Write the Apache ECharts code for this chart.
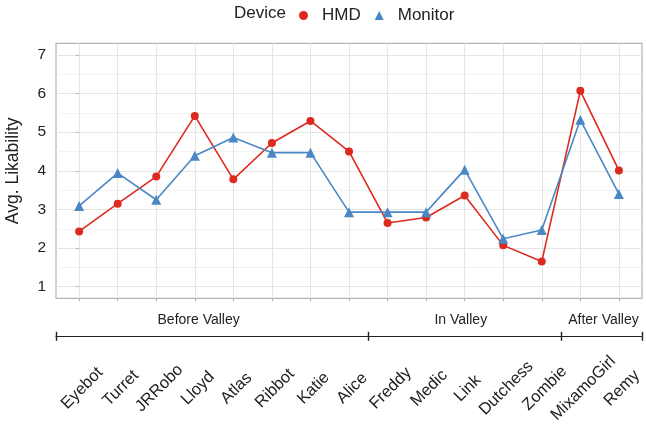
<!DOCTYPE html>
<html>
<head>
<meta charset="utf-8">
<script src="https://cdn.jsdelivr.net/npm/echarts@6/dist/echarts.min.js"></script>
<style>html,body{margin:0;padding:0;background:#fff}#c{width:646px;height:427px}</style>
</head>
<body>
<div id="c"></div>
<script>
var categories = ['Eyebot','Turret','JRRobo','Lloyd','Atlas','Ribbot','Katie','Alice','Freddy','Medic','Link','Dutchess','Zombie','MixamoGirl','Remy'];
var hmd = [2.43, 3.15, 3.85, 5.42, 3.78, 4.72, 5.29, 4.50, 2.65, 2.79, 3.36, 2.07, 1.65, 6.07, 4.01];
var monitor = [3.09, 3.94, 3.25, 4.39, 4.86, 4.47, 4.47, 2.93, 2.93, 2.93, 4.03, 2.24, 2.47, 5.32, 3.40];
var yTicks = [1, 2, 3, 4, 5, 6, 7];
var yMinor = [1.5, 2.5, 3.5, 4.5, 5.5, 6.5];
var groupNames = ['Before Valley', 'In Valley', 'After Valley'];
var groupLabelPos = [3.1, 9.9, 13.6];
var groupBounds = [-0.6, 7.5, 12.5, 14.6];

var XMIN = -0.6, XMAX = 14.6;
var LABEL_SHIFT = 0.08;
var idx = categories.map(function (_, i) { return i; });
var txt = '#222';
var font = 'Liberation Sans, Arial, sans-serif';

function baseX(extra) {
  var o = {
    type: 'value', min: XMIN, max: XMAX, position: 'bottom',
    axisLine: { show: false }, axisTick: { show: false },
    axisLabel: { show: false }, splitLine: { show: false }
  };
  for (var k in extra) o[k] = extra[k];
  return o;
}

var chart = echarts.init(document.getElementById('c'));
chart.setOption({
  animation: false,
  textStyle: { fontFamily: font },
  title: {
    text: 'Device', left: 229, top: 0,
    textStyle: { fontSize: 17, fontWeight: 'normal', color: txt, fontFamily: font }
  },
  legend: {
    left: 294, top: 2, itemGap: 14, itemWidth: 9, itemHeight: 9,
    formatter: '{a|{name}}',
    textStyle: { fontSize: 17, color: txt, fontFamily: font,
      rich: { a: { fontSize: 17, color: txt, fontFamily: font, padding: [0, 0, 0, 9] } } },
    data: [{ name: 'HMD', icon: 'circle' }, { name: 'Monitor', icon: 'triangle' }]
  },
  grid: {
    left: 56, right: 4, top: 43.3, bottom: 128.7,
    outerBoundsMode: 'none', containLabel: false,
    show: true, borderColor: '#b3b3b3', borderWidth: 1.2, backgroundColor: '#fff'
  },
  xAxis: [
    baseX({
      axisTick: { show: true, customValues: idx, length: 3, lineStyle: { color: '#b3b3b3', width: 1.1 } },
      splitLine: { show: true, lineStyle: { color: '#e5e5e5', width: 1.1 } }
    }),
    baseX({
      axisLabel: {
        show: true, customValues: groupLabelPos, margin: 15, fontSize: 14, color: txt,
        formatter: function (v) { return groupNames[groupLabelPos.indexOf(v)]; }
      }
    }),
    baseX({
      offset: 38,
      axisLine: { show: true, lineStyle: { color: '#222', width: 1.2 } },
      axisTick: { show: true, customValues: groupBounds, length: 4.5, inside: false, lineStyle: { color: '#222', width: 1.4 } }
    }),
    baseX({
      offset: 38,
      axisTick: { show: true, customValues: groupBounds, length: 4.5, inside: true, lineStyle: { color: '#222', width: 1.4 } }
    }),
    baseX({
      axisLabel: {
        show: true, rotate: 45, margin: 90, fontSize: 16.5, color: txt,
        align: 'center', verticalAlign: 'middle',
        customValues: idx.map(function (i) { return i + LABEL_SHIFT; }),
        formatter: function (v) { return categories[Math.round(v - LABEL_SHIFT)]; }
      }
    })
  ],
  yAxis: [
    {
      type: 'value', min: 0.7, max: 7.3,
      name: 'Avg. Likability', nameLocation: 'middle', nameGap: 34,
      nameTextStyle: { fontSize: 17.5, color: txt, fontFamily: font },
      axisLine: { show: false },
      axisTick: { show: true, customValues: yTicks, length: 3, lineStyle: { color: '#b3b3b3', width: 1.1 } },
      axisLabel: { show: true, customValues: yTicks, fontSize: 15.5, color: txt, margin: 10 },
      splitLine: { show: true, lineStyle: { color: '#e5e5e5', width: 1.1 } }
    },
    {
      type: 'value', min: 0.7, max: 7.3, position: 'left',
      axisLine: { show: false },
      axisTick: { show: false, customValues: yMinor },
      axisLabel: { show: false },
      splitLine: { show: true, lineStyle: { color: '#efefef', width: 0.8 } }
    }
  ],
  series: [
    {
      name: 'HMD', type: 'line', xAxisIndex: 0, yAxisIndex: 0,
      data: hmd.map(function (v, i) { return [i, v]; }),
      symbol: 'circle', symbolSize: 8,
      itemStyle: { color: '#dd2a1e' },
      lineStyle: { color: '#dd2a1e', width: 1.6 }
    },
    {
      name: 'Monitor', type: 'line', xAxisIndex: 0, yAxisIndex: 0,
      data: monitor.map(function (v, i) { return [i, v]; }),
      symbol: 'triangle', symbolSize: 10,
      itemStyle: { color: '#4a88c5' },
      lineStyle: { color: '#4a88c5', width: 1.6 }
    }
  ]
});
</script>
</body>
</html>
